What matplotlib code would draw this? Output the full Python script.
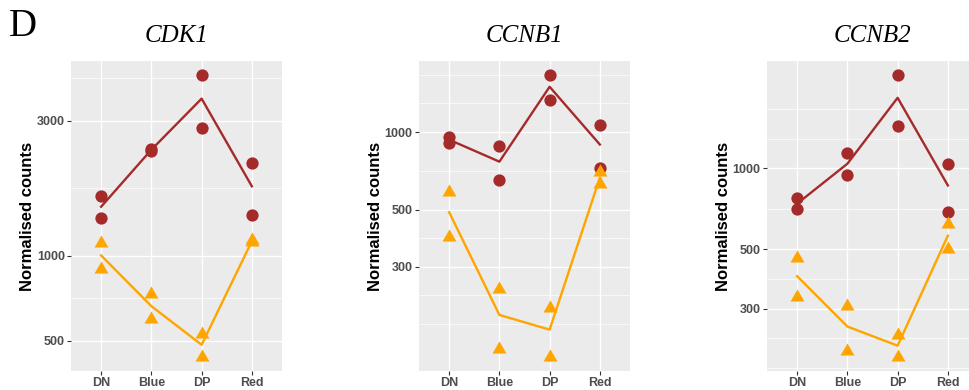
import numpy as np
import matplotlib
matplotlib.use("Agg")
import matplotlib.pyplot as plt

# Grupos del eje x
categorias = ["DN", "Blue", "DP", "Red"]

# Valores (dos replicas por grupo)
cdk1_rojo = [[1625, 1356], [2390, 2350], [4350, 2833], [2126, 1394]]
cdk1_naranja = [[1110, 895], [731, 596], [530, 439], [1133, 1118]]

ccnb1_rojo = [[959, 909], [885, 650], [1664, 1334], [1062, 727]]
ccnb1_naranja = [[585, 392], [246, 144], [208, 134], [700, 630]]

ccnb2_rojo = [[774, 703], [1137, 944], [2228, 1438], [1040, 687]]
ccnb2_naranja = [[462, 330], [306, 208], [238, 198], [621, 501]]

genes = ["CDK1", "CCNB1", "CCNB2"]
cortes_y = [[500, 1000, 3000], [300, 500, 1000], [300, 500, 1000]]

COLOR_ROJO = "#A52A2A"
COLOR_NARANJA = "#FFA500"
FONDO = "#EBEBEB"
# triangulo centrado en el centroide, como el pch 17 de R
TRIANGULO = [(0, 1), (-0.866, -0.5), (0.866, -0.5), (0, 1)]


def cortes_menores(cortes, lim):
    """Lineas menores al estilo ggplot: puntos medios en escala log."""
    b = list(np.log10(cortes))
    bd = b[1] - b[0]
    if lim[0] < b[0]:
        b = [b[0] - bd] + b
    if lim[1] > b[-1]:
        b = b + [b[-1] + bd]
    menores = []
    for a, c in zip(b[:-1], b[1:]):
        menores += [a, (a + c) / 2]
    menores.append(b[-1])
    return [10 ** m for m in menores if lim[0] <= m <= lim[1]]


def dibujar_panel(ax, gen, rojo, naranja, cortes):
    x = np.arange(len(categorias))
    ax.set_facecolor(FONDO)
    ax.set_yscale("log")

    todos = np.log10(np.array(rojo + naranja, dtype=float))
    lo, hi = todos.min(), todos.max()
    pad = 0.05 * (hi - lo)
    lim_log = (lo - pad, hi + pad)

    ax.set_yticks(cortes)
    ax.set_yticklabels([str(c) for c in cortes])
    ax.set_yticks(cortes_menores(cortes, lim_log), minor=True)
    ax.yaxis.set_minor_formatter(plt.NullFormatter())
    ax.tick_params(axis="y", which="minor", length=0)
    ax.grid(True, which="major", color="white", linewidth=1.0)
    ax.grid(True, which="minor", axis="y", color="white", linewidth=0.5)
    ax.set_axisbelow(True)

    for datos, color, marca, tam in [(rojo, COLOR_ROJO, "o", 78),
                                     (naranja, COLOR_NARANJA, TRIANGULO, 135)]:
        arr = np.array(datos, dtype=float)
        medias = arr.mean(axis=1)
        ax.plot(x, medias, color=color, linewidth=1.7, zorder=2)
        xs = np.repeat(x, arr.shape[1])
        ax.scatter(xs, arr.ravel(), s=tam, marker=marca, color=color,
                   linewidths=0, zorder=3)

    ax.set_xticks(x)
    ax.set_xticklabels(categorias)
    ax.set_xlim(-0.6, len(categorias) - 0.4)
    ax.set_ylim(10 ** lim_log[0], 10 ** lim_log[1])

    for s in ax.spines.values():
        s.set_visible(False)
    ax.tick_params(axis="both", which="major", length=3, width=0.8,
                   color="#333333", pad=1.5, labelsize=9,
                   labelcolor="#4D4D4D")
    for t in ax.get_xticklabels() + ax.get_yticklabels():
        t.set_fontweight("bold")
        t.set_family("Liberation Sans")

    ax.set_ylabel("Normalised counts", fontsize=12, fontweight="bold",
                  family="Liberation Sans", labelpad=1.5)
    ax.set_title(gen, fontsize=18, style="italic", family="Liberation Serif",
                 pad=14)


fig = plt.figure(figsize=(9.7, 3.9), dpi=100)
W, H = 970, 390
izquierdas = [71, 419, 767]
arriba, abajo = 61, 371
ancho = 211
datos_rojo = [cdk1_rojo, ccnb1_rojo, ccnb2_rojo]
datos_naranja = [cdk1_naranja, ccnb1_naranja, ccnb2_naranja]

for i, gen in enumerate(genes):
    ax = fig.add_axes([izquierdas[i] / W, 1 - abajo / H, ancho / W,
                       (abajo - arriba) / H])
    dibujar_panel(ax, gen, datos_rojo[i], datos_naranja[i], cortes_y[i])

fig.text(9 / W, 1 - 27 / H, "D", fontsize=28, family="Liberation Serif",
         va="center", ha="left")

fig.savefig("out.png", dpi=100)
